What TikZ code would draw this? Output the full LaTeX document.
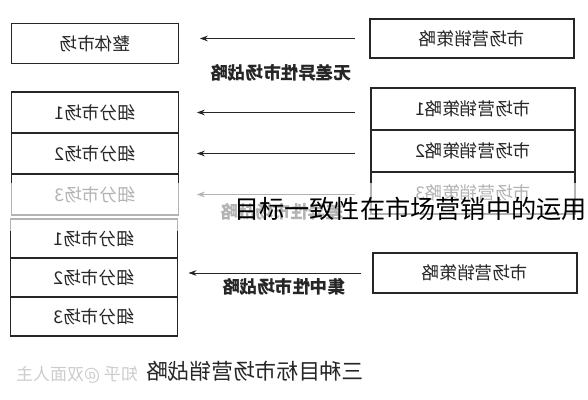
\documentclass[tikz,border=0pt]{standalone}
\usepackage{graphicx}
\usepackage{fontspec}
\setmainfont{Noto Sans CJK SC}
\usetikzlibrary{arrows.meta,positioning}
\definecolor{Ink}{HTML}{262626}
\newcommand{\mirror}[1]{\reflectbox{#1}}

\begin{document}
\begin{tikzpicture}[x=0.03cm,y=-0.03cm,node distance=0pt,
    mkt/.style={draw=Ink,line width=1.1pt,outer sep=0pt,inner sep=0pt,
                minimum width=5.01cm,minimum height=1.23cm,text=Ink,
                font=\fontsize{15}{15}\selectfont},
    plan/.style={mkt,minimum width=6.12cm},
    arr/.style={-{Stealth[length=2.4mm,width=1.7mm]},line width=0.8pt,Ink},
    lbl/.style={text=Ink,font=\fontsize{15}{15}\selectfont\bfseries}]
  \useasboundingbox (0,0) rectangle (588,400);
  \node[mkt,minimum height=1.2cm] (m0) at (95,43.5) {\mirror{整体市场}};
  \node[plan,minimum height=1.17cm] (s0) at (472,38.5) {\mirror{市场营销策略}};
  \node[mkt] (m1) at (95,112.5) {\mirror{细分市场1}};
  \node[mkt,below=of m1] (m2) {\mirror{细分市场2}};
  \node[mkt,below=of m2] (m3) {\mirror{细分市场3}};
  \node[plan,minimum height=1.26cm] (s1) at (473,109) {\mirror{市场营销策略1}};
  \node[plan,minimum height=1.26cm,below=of s1] (s2) {\mirror{市场营销策略2}};
  \node[plan,minimum height=1.26cm,below=of s2] (s3) {\mirror{市场营销策略3}};
  \node[mkt,minimum height=1.17cm] (n1) at (94,238.5) {\mirror{细分市场1}};
  \node[mkt,minimum height=1.17cm,below=of n1] (n2) {\mirror{细分市场2}};
  \node[mkt,minimum height=1.17cm,below=of n2] (n3) {\mirror{细分市场3}};
  \node[plan,minimum height=1.2cm] (t0) at (475,273) {\mirror{市场营销策略}};
  \draw[arr,shorten <=4.5mm,shorten >=6.4mm] (s0.west) -- (s0.west -| m0.east);
  \draw[arr,shorten <=4.8mm,shorten >=5.5mm] (m1.east -| s1.west) -- (m1.east);
  \draw[arr,shorten <=4.8mm,shorten >=5.5mm] (m2.east -| s2.west) -- (m2.east);
  \draw[arr,shorten <=4.8mm,shorten >=5.5mm] (m3.east -| s3.west) -- (m3.east);
  \draw[arr,shorten <=3.5mm,shorten >=3.3mm] (t0.west) -- (t0.west -| n2.east);
  \node[lbl] (l0) at (281,73) {\mirror{无差异性市场战略}};
  \node[lbl] (l1) at (282,212) {\mirror{差异性市场战略}};
  \node[lbl] (l2) at (284,287) {\mirror{集中性市场战略}};
  \node[text=Ink,font=\fontsize{18.5}{19}\selectfont] (cap) at (255,371) {\mirror{三种目标市场营销战略}};
  \node[text=gray!40,font=\fontsize{14.5}{15}\selectfont] (wm) at (77,375) {\mirror{知乎 @双面人主}};
  \fill[white,opacity=0.65] (0,183) rectangle (588,231);
  \node[anchor=west,inner sep=0pt,font=\fontsize{21.5}{22}\selectfont] (title) at (234,209) {目标一致性在市场营销中的运用};
\end{tikzpicture}
\end{document}
